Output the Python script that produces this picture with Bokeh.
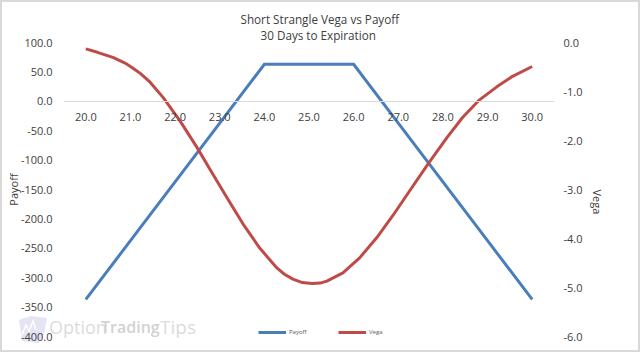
from bokeh.plotting import figure
from bokeh.layouts import column
from bokeh.models import (Range1d, LinearAxis, NumeralTickFormatter, FixedTicker, Legend, LegendItem,
                          Title, Div)
from bokeh.embed import file_html
from bokeh.resources import INLINE

title_lines = ["Short Strangle Vega vs Payoff", "30 Days to Expiration"]
strikes = [20, 21, 22, 23, 24, 25, 26, 27, 28, 29, 30]
payoff = [-337, -237, -137, -37, 63, 63, 63, -37, -137, -237, -337]
vega_x = [20.0, 20.26, 20.62, 20.88, 21.05, 21.22, 21.44, 21.73, 22.11, 22.49, 22.79, 23.17, 23.52, 23.90, 24.28, 24.45, 24.64, 24.85,
          25.07, 25.25, 25.40, 25.76, 26.14, 26.52, 26.88, 27.26, 27.68, 28.09, 28.44, 28.82, 29.20, 29.56, 30.0]
vega = [-0.13, -0.20, -0.31, -0.42, -0.52, -0.63, -0.81, -1.12, -1.60, -2.14, -2.60, -3.18, -3.70, -4.20, -4.60, -4.73, -4.83, -4.90,
        -4.92, -4.91, -4.87, -4.70, -4.39, -3.98, -3.53, -3.02, -2.46, -1.94, -1.53, -1.17, -0.91, -0.69, -0.49]
payoff_ticks = [100, 50, 0, -50, -100, -150, -200, -250, -300, -350, -400]
vega_ticks = [0, -1, -2, -3, -4, -5, -6]

FONT = "Open Sans"
INK = "#404040"

p = figure(width=636, height=348, output_backend="svg", toolbar_location=None,
           x_range=Range1d(19.5, 30.5), y_range=Range1d(-400, 100),
           x_axis_type=None, y_axis_type=None,
           frame_width=491, frame_height=294,
           min_border_left=61, min_border_right=84, min_border_top=40, min_border_bottom=14,
           background_fill_color=None, border_fill_color=None, outline_line_color=None,
           styles={"position": "absolute", "left": "0px", "top": "0px"})
p.grid.visible = False
p.extra_y_ranges = {"vega": Range1d(-6, 0)}

def axis_style(ax):
    ax.axis_line_color = None
    ax.major_tick_line_color = None
    ax.minor_tick_line_color = None
    ax.major_tick_out = 0
    ax.major_tick_in = 0
    ax.minor_tick_out = 0
    ax.major_label_standoff = 11
    ax.major_label_text_font = FONT
    ax.major_label_text_font_size = "11px"
    ax.major_label_text_color = INK
    ax.axis_label_text_font = FONT
    ax.axis_label_text_font_size = "11px"
    ax.axis_label_text_font_style = "normal"
    ax.axis_label_text_color = INK
    ax.axis_label_standoff = 0

xax = LinearAxis(ticker=FixedTicker(ticks=strikes), formatter=NumeralTickFormatter(format="0.0"), fixed_location=0)
axis_style(xax)
xax.axis_line_color = "#d9d9d9"
xax.major_label_standoff = 12
p.add_layout(xax, "below")

yl = LinearAxis(ticker=FixedTicker(ticks=payoff_ticks), formatter=NumeralTickFormatter(format="0.0"), axis_label="Payoff")
axis_style(yl)
yl.axis_label_standoff = -3
p.add_layout(yl, "left")

yr = LinearAxis(y_range_name="vega", ticker=FixedTicker(ticks=vega_ticks), formatter=NumeralTickFormatter(format="0.0"),
                axis_label="Vega")
axis_style(yr)
yr.major_label_standoff = 9
yr.axis_label_standoff = 12
yr.axis_label_orientation = -1.5708
p.add_layout(yr, "right")

r1 = p.line(strikes, payoff, line_color="#4A7EBB", line_width=3, line_join="miter")
r2 = p.line(vega_x, vega, y_range_name="vega", line_color="#BE4B48", line_width=3, line_join="round")

leg = Legend(items=[LegendItem(label="Payoff", renderers=[r1]), LegendItem(label="Vega", renderers=[r2])],
             orientation="horizontal", location=(195, 0), background_fill_alpha=0, border_line_color=None,
             label_text_font=FONT, label_text_font_size="6px", label_text_color="#595959",
             glyph_width=28, glyph_height=6, label_standoff=3, spacing=29, padding=5, margin=0)
p.add_layout(leg, "center")

for line, standoff, off in [(title_lines[1], 0, 197), (title_lines[0], -4, 177)]:
    p.add_layout(Title(text=line, align="left", offset=off, text_font=FONT, text_font_size="11.7px", text_font_style="normal",
                       text_color=INK, standoff=standoff), "above")

def word(txt, left, weight, size, col):
    return (f'<span style="position:absolute;left:{left}px;top:316px;font:{weight} {size}px/22px \'Open Sans\';'
            f'color:{col}">{txt}</span>')

watermark_html = (
    '<svg width="60" height="40" style="position:absolute;left:0;top:310px">'
    '<polygon points="19,10 31,6 47,8 44,24 39,33 22,31" fill="#e4e4f4"/>'
    '<polyline points="22,25 26,15 29,21 33,11 36,20" fill="none" stroke="#ffffff" stroke-width="1.5"/>'
    '</svg>'
    + word("Option", 49, 400, 18, "#dcdcdc")
    + word("Trading", 101, 600, 16, "#d2d2d2")
    + word("Tips", 160, 400, 19, "#dcdcdc")
)
wm = Div(text=watermark_html, width=200, height=40, margin=0,
         styles={"position": "absolute", "left": "-2px", "top": "-2px"})

page = column(wm, p, width=636, height=348,
              styles={"position": "absolute", "left": "0px", "top": "0px",
                      "border": "2px solid #d9d9d9", "box-sizing": "content-box"})
open("out.html", "w").write(file_html(page, INLINE))
